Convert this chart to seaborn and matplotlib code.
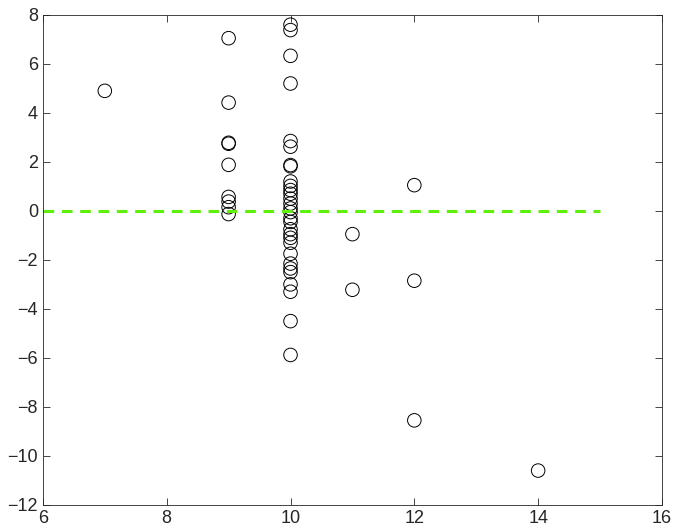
import matplotlib
matplotlib.use("Agg")
import matplotlib.pyplot as plt
import seaborn as sns
import pandas as pd

x7 = [7]
y7 = [4.9]
x9_vals = [7.05, 4.42, 2.78, 2.74, 1.88, 0.57, 0.38, 0.15, -0.13]
x10_vals = [7.6, 7.38, 6.33, 5.2, 2.85, 2.62, 1.87, 1.82, 1.2, 1.02, 0.85, 0.7, 0.5, 0.3,
            0.1, -0.05, -0.3, -0.45, -0.75, -0.95, -1.1, -1.3, -1.75, -2.15, -2.35, -2.5,
            -3.0, -3.3, -4.5, -5.88]
x11_vals = [-0.95, -3.22]
x12_vals = [1.05, -2.85, -8.55]
x14_vals = [-10.6]

xs = x7 + [9] * len(x9_vals) + [10] * len(x10_vals) + [11] * len(x11_vals) + [12] * len(x12_vals) + [14] * len(x14_vals)
ys = y7 + x9_vals + x10_vals + x11_vals + x12_vals + x14_vals
df = pd.DataFrame({"x": xs, "y": ys})

line_x = [6, 15]
line_y = [0, 0]

sns.set_style("ticks")
plt.rcParams['font.family'] = ['Liberation Sans', 'DejaVu Sans']

fig = plt.figure(figsize=(6.81, 5.32), dpi=100)
ax = fig.add_axes([0.063, 0.051, 0.909, 0.921])

sns.lineplot(x=line_x, y=line_y, ax=ax, color="#5ef00a", linestyle=(0, (3.5, 2.5)), linewidth=2.2)
sns.scatterplot(data=df, x="x", y="y", ax=ax, s=95, facecolor="none", edgecolor="black", linewidth=0.7, marker="o")

ax.set_xlim(6, 16)
ax.set_ylim(-12, 8)
ax.set_xticks(range(6, 17, 2))
ax.set_yticks(range(-12, 9, 2))
ax.set_xlabel("")
ax.set_ylabel("")
ax.tick_params(direction="in", top=True, right=True, labelsize=13, length=5, width=0.6)
for s in ax.spines.values():
    s.set_visible(True)
    s.set_linewidth(0.6)

fig.savefig("out.png", dpi=100)
